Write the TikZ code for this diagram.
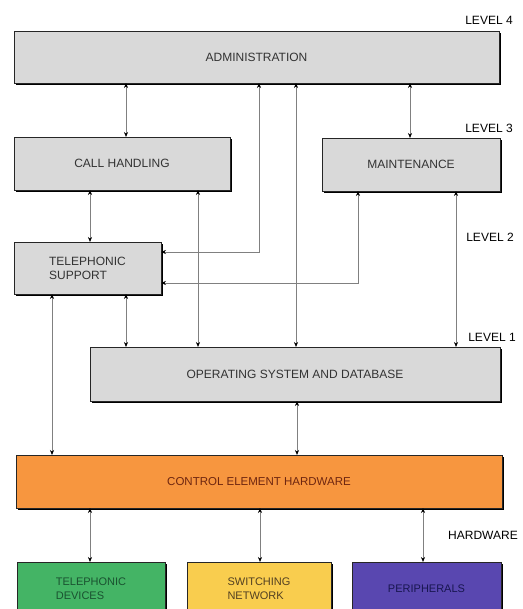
\documentclass[tikz,border=0pt]{standalone}
\usepackage{fontspec}
\setmainfont{Liberation Sans}
\usetikzlibrary{arrows.meta,positioning,shadows}
\definecolor{BoxGray}{HTML}{D9D9D9}
\definecolor{LineGray}{HTML}{808080}
\definecolor{TextGray}{HTML}{333333}
\definecolor{HwOrange}{HTML}{F7963F}
\definecolor{HwGreen}{HTML}{44B465}
\definecolor{HwYellow}{HTML}{F9CD4E}
\definecolor{HwPurple}{HTML}{5947B0}
\definecolor{DarkOrange}{HTML}{6E2610}
\definecolor{DarkGreen}{HTML}{1A5230}
\definecolor{DarkYellow}{HTML}{524022}
\definecolor{DarkPurple}{HTML}{181650}
\tikzset{
  box/.style={draw=black!85,line width=.8pt,outer sep=0pt,inner sep=2pt,minimum height=52pt,align=center,
    font=\fontsize{11.5}{14}\selectfont,general shadow={fill=black,shadow xshift=1.6pt,shadow yshift=-1.6pt}},
  graybox/.style={box,fill=BoxGray,text=TextGray,font=\fontsize{12}{14}\selectfont},
  hwbox/.style={box,fill=HwOrange,text=DarkOrange,minimum height=53pt},
  devbox/.style={box,minimum height=53pt,align=left,font=\fontsize{11}{14}\selectfont},
  lvl/.style={font=\fontsize{12}{14}\selectfont,text=black,inner sep=0pt},
  link/.style={{Stealth[length=5pt,width=4pt,color=black]}-{Stealth[length=5pt,width=4pt,color=black]},draw=LineGray,line width=.65pt},
}
\begin{document}
\begin{tikzpicture}[x=1pt,y=-1pt]
        \useasboundingbox[fill=white] (0,0) rectangle (522,609);
        \clip (0,0) rectangle (522,609);
        \node[graybox,minimum width=485pt] (adm) at (256.5,57) {ADMINISTRATION};
        \node[graybox,minimum width=216pt,minimum height=53pt,below right=54pt and 0pt of adm.south west] (call) {CALL HANDLING};
        \node[graybox,minimum width=178pt,minimum height=53pt,below left=55pt and -1pt of adm.south east] (maint) {MAINTENANCE};
        \node[graybox,minimum width=147pt,align=left,below right=52pt and 0pt of call.south west] (tsup) {TELEPHONIC\\SUPPORT};
        \node[graybox,minimum width=410pt,minimum height=54pt,below right=53pt and 76pt of tsup.south west] (osdb) {OPERATING SYSTEM AND DATABASE};
        \node[hwbox,minimum width=486pt,anchor=north west] (ceh) at (16,455) {CONTROL ELEMENT HARDWARE};
        \node[devbox,fill=HwGreen,text=DarkGreen,minimum width=148pt,anchor=north west] (tdev) at (17,562) {TELEPHONIC\\DEVICES};
        \node[devbox,fill=HwYellow,text=DarkYellow,minimum width=144pt,anchor=north west] (swnet) at (187,562) {SWITCHING\\NETWORK};
        \node[devbox,fill=HwPurple,text=DarkPurple,minimum width=149pt,anchor=north west] (peri) at (352,562) {PERIPHERALS};
        \node[lvl] (lv4) at (489,20) {LEVEL 4};
        \node[lvl] (lv3) at (489,128) {LEVEL 3};
        \node[lvl] (lv2) at (490,237) {LEVEL 2};
        \node[lvl] (lv1) at (492,337) {LEVEL 1};
        \node[lvl] (lvhw) at (483,535) {HARDWARE};
        \draw[link] (adm.south -| 126,0) -- (call.north -| 126,0);
        \draw[link] (adm.south -| 410,0) -- (maint.north -| 410,0);
        \draw[link] (adm.south -| 259,0) |- (tsup.east |- 0,252);
        \draw[link] (adm.south -| 296,0) -- (osdb.north -| 296,0);
        \draw[link] (call.south -| 90,0) -- (tsup.north -| 90,0);
        \draw[link] (call.south -| 198,0) -- (osdb.north -| 198,0);
        \draw[link] (maint.south -| 358,0) |- (tsup.east |- 0,283);
        \draw[link] (maint.south -| 456,0) -- (osdb.north -| 456,0);
        \draw[link] (tsup.south -| 126,0) -- (osdb.north -| 126,0);
        \draw[link] (tsup.south -| 52,0) -- (ceh.north -| 52,0);
        \draw[link] (osdb.south -| 297,0) -- (ceh.north -| 297,0);
        \draw[link] (ceh.south -| 90,0) -- (tdev.north -| 90,0);
        \draw[link] (ceh.south -| 260,0) -- (swnet.north -| 260,0);
        \draw[link] (ceh.south -| 423,0) -- (peri.north -| 423,0);
      \end{tikzpicture}
\end{document}
